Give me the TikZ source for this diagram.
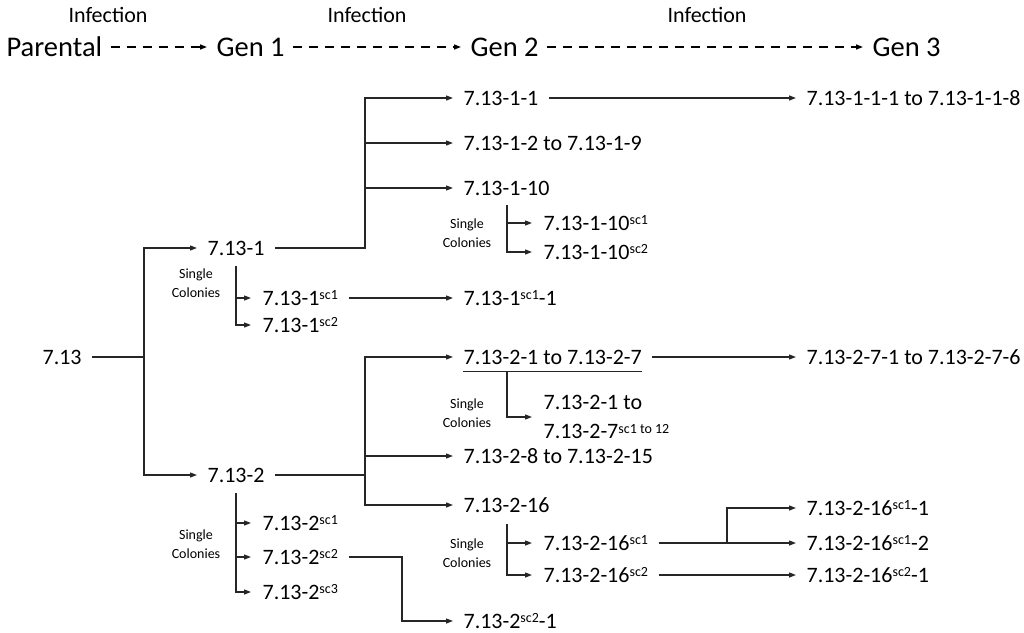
\documentclass[tikz,border=0pt]{standalone}
\usepackage{fontspec}
\setmainfont{Carlito}
\usetikzlibrary{arrows.meta,positioning,calc}

\newcommand{\supsc}[1]{\raisebox{5.5pt}{\fontsize{14}{14}\selectfont #1}}

\begin{document}
\begin{tikzpicture}[x=1pt,y=-1pt,line width=1.2pt,>={Triangle[length=7pt,width=5pt]},
  lbl/.style={anchor=west,inner sep=0pt,font=\fontsize{22}{26}\selectfont,text height=14pt,text depth=0pt},
  hdr/.style={anchor=west,inner sep=0pt,font=\fontsize{28.5}{32}\selectfont,text height=18pt,text depth=0pt},
  inf/.style={inner sep=0pt,font=\fontsize{22}{26}\selectfont,text height=14pt,text depth=0pt},
  sgl/.style={inner sep=0pt,align=center,font=\fontsize{14}{18.5}\selectfont},
  con/.style={->,draw=black!85,shorten <=10pt,shorten >=10pt},
  cold/.style={->,draw=black!85,shorten >=11pt},
  infline/.style={->,line width=1.5pt,dash pattern=on 9pt off 7pt,shorten <=8pt,shorten >=9pt}]
\useasboundingbox (0,0) rectangle (1024,632);

\node (hpar) [hdr] at (6,47) {Parental};
\node (hg1) [hdr] at (216,47) {Gen 1};
\node (hg2) [hdr] at (470,47) {Gen 2};
\node (hg3) [hdr] at (872,47) {Gen 3};
\node (inf1) [inf] at (108,15) {Infection};
\node (inf2) [inf] at (367,15) {Infection};
\node (inf3) [inf] at (707,15) {Infection};
\draw[infline] (hpar) -- (hg1);
\draw[infline] (hg1) -- (hg2);
\draw[infline] (hg2) -- (hg3);

\node (a) [lbl] at (42,357) {7.13};
\node (b1) [lbl] at (207,248) {7.13-1};
\node (b2) [lbl] at (207,475) {7.13-2};

\node (s1) [sgl] at (196,283) {Single\\Colonies};
\node (b1s1) [lbl] at (262,298) {7.13-1\supsc{sc1}};
\node (b1s2) [lbl] at (262,325) {7.13-1\supsc{sc2}};

\node (c11) [lbl] at (463,98) {7.13-1-1};
\node (c12) [lbl] at (463,143) {7.13-1-2 to 7.13-1-9};
\node (c13) [lbl] at (463,188) {7.13-1-10};
\node (s2) [sgl] at (467,233) {Single\\Colonies};
\node (c13s1) [lbl] at (543,223) {7.13-1-10\supsc{sc1}};
\node (c13s2) [lbl] at (543,252) {7.13-1-10\supsc{sc2}};
\node (c14) [lbl] at (463,298) {7.13-1\supsc{sc1}-1};
\node (d11) [lbl] at (806,98) {7.13-1-1-1 to 7.13-1-1-8};

\node (c21) [lbl] at (463,357) {7.13-2-1 to 7.13-2-7};
\node (s3) [sgl] at (467,413) {Single\\Colonies};
\node (c21s) [anchor=west,inner sep=0pt,align=left,font=\fontsize{22}{29}\selectfont] at (543,417) {7.13-2-1 to\\7.13-2-7\supsc{sc1 to 12}};
\node (d21) [lbl] at (806,357) {7.13-2-7-1 to 7.13-2-7-6};
\node (c22) [lbl] at (463,456) {7.13-2-8 to 7.13-2-15};
\node (c23) [lbl] at (463,505) {7.13-2-16};
\node (s4) [sgl] at (467,553) {Single\\Colonies};
\node (c23s1) [lbl] at (543,543) {7.13-2-16\supsc{sc1}};
\node (c23s2) [lbl] at (543,575) {7.13-2-16\supsc{sc2}};
\node (d23a) [lbl] at (806,508) {7.13-2-16\supsc{sc1}-1};
\node (d23b) [lbl] at (806,543) {7.13-2-16\supsc{sc1}-2};
\node (d23c) [lbl] at (806,575) {7.13-2-16\supsc{sc2}-1};

\node (s5) [sgl] at (196,544) {Single\\Colonies};
\node (b2s1) [lbl] at (262,523) {7.13-2\supsc{sc1}};
\node (b2s2) [lbl] at (262,557) {7.13-2\supsc{sc2}};
\node (b2s3) [lbl] at (262,592) {7.13-2\supsc{sc3}};
\node (c24) [lbl] at (463,621) {7.13-2\supsc{sc2}-1};

\coordinate (j0) at (144,357);
\coordinate (j1) at (365,248);
\coordinate (j2) at (365,475);
\coordinate (j3) at (727,543);
\coordinate (j4) at (402,557);
\coordinate (v1) at (236,266);
\coordinate (v2) at (507,205);
\coordinate (v3) at (507,371);
\coordinate (v4) at (507,524);
\coordinate (v5) at (236,493);

\draw[con] (a.east) -- (j0) |- (b1.west);
\draw[con] (a.east) -- (j0) |- (b2.west);

\draw[con] (b1.east) -- (j1) |- (c11.west);
\draw[con] (b1.east) -- (j1) |- (c12.west);
\draw[con] (b1.east) -- (j1) |- (c13.west);
\draw[cold] (v1) |- (b1s1.west);
\draw[cold] (v1) |- (b1s2.west);
\draw[con] (b1s1) -- (c14);
\draw[cold] (v2) |- (c13s1.west);
\draw[cold] (v2) |- (c13s2.west);
\draw[con] (c11) -- (d11);

\draw[con] (b2.east) -- (j2) |- (c21.west);
\draw[con] (b2.east) -- (j2) |- (c22.west);
\draw[con] (b2.east) -- (j2) |- (c23.west);
\draw[draw=black!85] ([yshift=-7pt]c21.south west) -- ([yshift=-7pt]c21.south east);
\draw[cold] (v3) |- (c21s.west);
\draw[con] (c21) -- (d21);
\draw[cold] (v4) |- (c23s1.west);
\draw[cold] (v4) |- (c23s2.west);
\draw[con] (c23s1) -- (d23b);
\draw[con] (c23s1.east) -- (j3) |- (d23a.west);
\draw[con] (c23s2) -- (d23c);

\draw[cold] (v5) |- (b2s1.west);
\draw[cold] (v5) |- (b2s2.west);
\draw[cold] (v5) |- (b2s3.west);
\draw[con] (b2s2.east) -- (j4) |- (c24.west);
\end{tikzpicture}
\end{document}
